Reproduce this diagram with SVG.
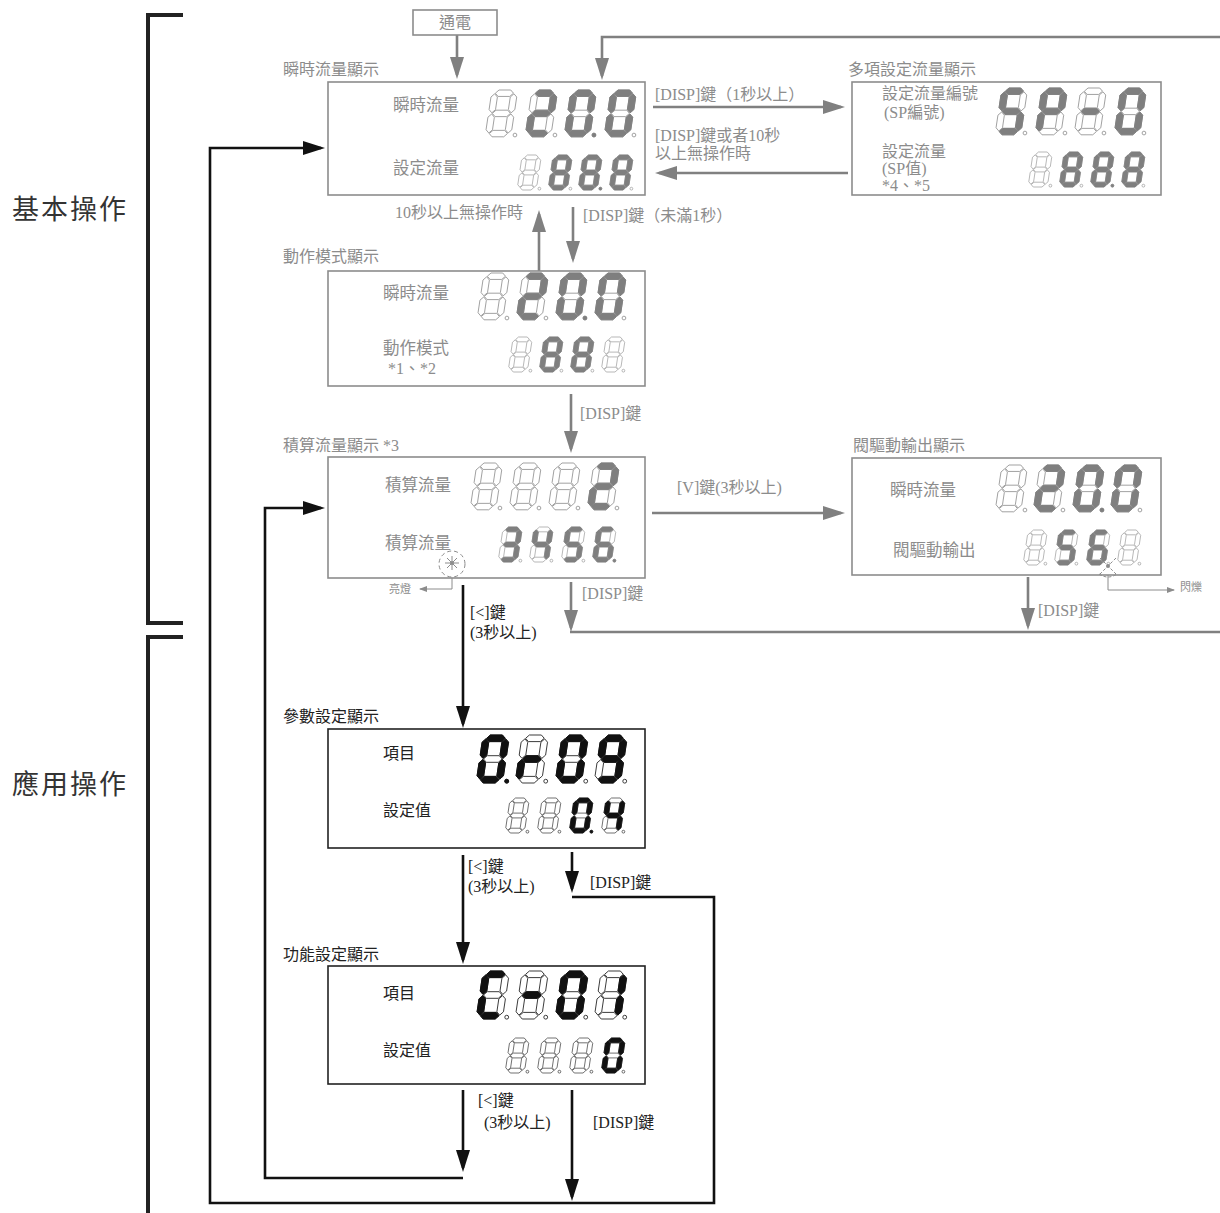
<svg xmlns="http://www.w3.org/2000/svg" width="1220" height="1213" viewBox="0 0 1220 1213">
<style>
text{font-family:"Liberation Serif","Noto Sans CJK TC",serif;}
.lbl{font-size:16px;fill:#8c8c8c;}
.lblk{font-size:16px;fill:#222;}
.sm{font-size:11px;fill:#8c8c8c;}
.sec{font-size:27px;fill:#333;letter-spacing:2px;}
.boxg{fill:#fff;stroke:#8c8c8c;stroke-width:1.6;}
.boxk{fill:#fff;stroke:#222;stroke-width:1.6;}
.cg{fill:none;stroke:#808080;stroke-width:2.6;}
.ck{fill:none;stroke:#111;stroke-width:2.6;}
.thin{fill:none;stroke:#8c8c8c;stroke-width:1;}
.brk{fill:none;stroke:#222;stroke-width:4;}
.g .off{fill:#fff;stroke:#9a9a9a;stroke-width:0.8;}
.g .on{fill:#7f7f7f;stroke:#7f7f7f;stroke-width:0.8;}
.k .off{fill:#fff;stroke:#333;stroke-width:0.8;}
.k .on{fill:#111;stroke:#111;stroke-width:0.8;}
</style>
<defs>
<marker id="ag" markerUnits="userSpaceOnUse" markerWidth="24" markerHeight="16" refX="18" refY="7" orient="auto"><path d="M0,0 L22,7 L0,14 Z" fill="#808080"/></marker>
<marker id="ak" markerUnits="userSpaceOnUse" markerWidth="24" markerHeight="16" refX="18" refY="7" orient="auto"><path d="M0,0 L22,7 L0,14 Z" fill="#111"/></marker>
<marker id="as" markerUnits="userSpaceOnUse" markerWidth="10" markerHeight="8" refX="7" refY="3" orient="auto"><path d="M0,0 L8,3 L0,6 Z" fill="#8c8c8c"/></marker>
<polygon id="sa" points="8.84,2.75 12,0 22,0 24.34,2.75 21.18,5.5 11.18,5.5"/>
<polygon id="sg" points="6.25,20 9.41,17.25 19.41,17.25 21.75,20 18.59,22.75 8.59,22.75"/>
<polygon id="sd" points="3.66,37.25 6.83,34.5 16.83,34.5 19.16,37.25 16,40 6,40"/>
<polygon id="sf" points="8.26,3.25 10.6,6 8.99,16.75 5.83,19.5 3.49,16.75 5.1,6"/>
<polygon id="sb" points="24.76,3.25 27.1,6 25.49,16.75 22.33,19.5 19.99,16.75 21.6,6"/>
<polygon id="se" points="5.68,20.5 8.01,23.25 6.4,34 3.24,36.75 0.9,34 2.51,23.25"/>
<polygon id="sc" points="22.18,20.5 24.51,23.25 22.9,34 19.74,36.75 17.4,34 19.01,23.25"/>
<circle id="dp" cx="25.6" cy="38.5" r="1.6"/>
<g id="off"><use href="#sa"/><use href="#sb"/><use href="#sc"/><use href="#sd"/><use href="#se"/><use href="#sf"/><use href="#sg"/><use href="#dp"/></g>
<g id="n0"><use href="#sa"/><use href="#sb"/><use href="#sc"/><use href="#sd"/><use href="#se"/><use href="#sf"/></g>
<g id="n1"><use href="#sb"/><use href="#sc"/></g>
<g id="n2"><use href="#sa"/><use href="#sb"/><use href="#sg"/><use href="#se"/><use href="#sd"/></g>
<g id="n3"><use href="#sa"/><use href="#sb"/><use href="#sg"/><use href="#sc"/><use href="#sd"/></g>
<g id="n4"><use href="#sf"/><use href="#sg"/><use href="#sb"/><use href="#sc"/></g>
<g id="n5"><use href="#sa"/><use href="#sf"/><use href="#sg"/><use href="#sc"/><use href="#sd"/></g>
<g id="n6"><use href="#sa"/><use href="#sf"/><use href="#sg"/><use href="#se"/><use href="#sc"/><use href="#sd"/></g>
<g id="n8"><use href="#sa"/><use href="#sb"/><use href="#sc"/><use href="#sd"/><use href="#se"/><use href="#sf"/><use href="#sg"/></g>
<g id="n9"><use href="#sa"/><use href="#sb"/><use href="#sc"/><use href="#sd"/><use href="#sf"/><use href="#sg"/></g>
<g id="nP"><use href="#sa"/><use href="#sb"/><use href="#sf"/><use href="#sg"/><use href="#se"/></g>
<g id="nm"><use href="#sg"/></g>
<g id="nr"><use href="#se"/><use href="#sg"/></g>
<g id="nC"><use href="#sa"/><use href="#sf"/><use href="#se"/><use href="#sd"/></g>
</defs>
<rect width="1220" height="1213" fill="#fff"/>

<g id="brackets">
<path class="brk" d="M183,15 H148 V623 H183"/>
<path class="brk" d="M183,637 H148 V1213"/>
<text class="sec" x="12" y="219">基本操作</text>
<text class="sec" x="12" y="794">應用操作</text>
</g>

<g id="connectors">
<path class="cg" d="M457,35 V75" marker-end="url(#ag)"/>
<path class="cg" d="M1220,37 H602 V76" marker-end="url(#ag)"/>
<path class="cg" d="M653,107 H841" marker-end="url(#ag)"/>
<path class="cg" d="M848,173 H659" marker-end="url(#ag)"/>
<path class="cg" d="M573,207 V259" marker-end="url(#ag)"/>
<path class="cg" d="M539,271 V214" marker-end="url(#ag)"/>
<path class="cg" d="M571,394 V449" marker-end="url(#ag)"/>
<path class="cg" d="M652,513 H841" marker-end="url(#ag)"/>
<path class="cg" d="M571,582 V628" marker-end="url(#ag)"/>
<path class="cg" d="M570,632 H1220"/>
<path class="cg" d="M1028,577 V626" marker-end="url(#ag)"/>
<path class="ck" d="M463,585 V724" marker-end="url(#ak)"/>
<path class="ck" d="M463,855 V960" marker-end="url(#ak)"/>
<path class="ck" d="M572,852 V889" marker-end="url(#ak)"/>
<path class="ck" d="M572,897 H714 V1203 H210 V148 H321" marker-end="url(#ak)"/>
<path class="ck" d="M463,1090 V1168" marker-end="url(#ak)"/>
<path class="ck" d="M463,1178 H265 V508 H321" marker-end="url(#ak)"/>
<path class="ck" d="M572,1090 V1197" marker-end="url(#ak)"/>
<path class="thin" d="M452,578 V589 H420" marker-end="url(#as)"/>
<path class="thin" d="M1108,572 V590 H1174" marker-end="url(#as)"/>
<text class="lbl" x="655" y="100">[DISP]鍵（1秒以上）</text>
<text class="lbl" x="655" y="141">[DISP]鍵或者10秒</text>
<text class="lbl" x="655" y="159">以上無操作時</text>
<text class="lbl" x="395" y="218">10秒以上無操作時</text>
<text class="lbl" x="583" y="221">[DISP]鍵（未滿1秒）</text>
<text class="lbl" x="580" y="419">[DISP]鍵</text>
<text class="lbl" x="677" y="493">[V]鍵(3秒以上)</text>
<text class="lbl" x="582" y="599">[DISP]鍵</text>
<text class="lbl" x="1038" y="616">[DISP]鍵</text>
<text class="sm" x="389" y="593">亮燈</text>
<text class="sm" x="1180" y="591">閃爍</text>
<text class="lblk" x="470" y="618">[&lt;]鍵</text>
<text class="lblk" x="470" y="638">(3秒以上)</text>
<text class="lblk" x="468" y="872">[&lt;]鍵</text>
<text class="lblk" x="468" y="892">(3秒以上)</text>
<text class="lblk" x="590" y="888">[DISP]鍵</text>
<text class="lblk" x="478" y="1106">[&lt;]鍵</text>
<text class="lblk" x="484" y="1128">(3秒以上)</text>
<text class="lblk" x="593" y="1128">[DISP]鍵</text>
</g>

<g id="power">
<rect class="boxg" x="413" y="10" width="84" height="25"/>
<text class="lbl" x="455" y="28" text-anchor="middle">通電</text>
</g>

<g id="box1">
<text class="lbl" x="283" y="75">瞬時流量顯示</text>
<rect class="boxg" x="328" y="82" width="317" height="113"/>
<text class="lbl" x="393" y="111" style="font-size:16.5px">瞬時流量</text>
<text class="lbl" x="393" y="174" style="font-size:16.5px">設定流量</text>
<g class="g">
<g transform="translate(485 90) scale(1.17)"><use href="#off" class="off"/></g>
<g transform="translate(525 90) scale(1.17)"><use href="#off" class="off"/><use href="#n2" class="on"/></g>
<g transform="translate(564 90) scale(1.17)"><use href="#off" class="off"/><use href="#n0" class="on"/><use href="#dp" class="on"/></g>
<g transform="translate(604 90) scale(1.17)"><use href="#off" class="off"/><use href="#n0" class="on"/></g>
<g transform="translate(517 155) scale(0.875)"><use href="#off" class="off"/></g>
<g transform="translate(548 155) scale(0.875)"><use href="#off" class="off"/><use href="#n8" class="on"/></g>
<g transform="translate(578 155) scale(0.875)"><use href="#off" class="off"/><use href="#n8" class="on"/><use href="#dp" class="on"/></g>
<g transform="translate(609 155) scale(0.875)"><use href="#off" class="off"/><use href="#n8" class="on"/></g>
</g>
</g>

<g id="box2">
<text class="lbl" x="848" y="75">多項設定流量顯示</text>
<rect class="boxg" x="852" y="82" width="309" height="113"/>
<text class="lbl" x="882" y="99">設定流量編號</text>
<text class="lbl" x="884" y="118">(SP編號)</text>
<text class="lbl" x="882" y="157">設定流量</text>
<text class="lbl" x="882" y="174">(SP值)</text>
<text class="lbl" x="882" y="191">*4、*5</text>
<g class="g">
<g transform="translate(995 88) scale(1.17)"><use href="#off" class="off"/><use href="#n5" class="on"/></g>
<g transform="translate(1035 88) scale(1.17)"><use href="#off" class="off"/><use href="#nP" class="on"/></g>
<g transform="translate(1074 88) scale(1.17)"><use href="#off" class="off"/><use href="#nm" class="on"/></g>
<g transform="translate(1114 88) scale(1.17)"><use href="#off" class="off"/><use href="#n0" class="on"/></g>
<g transform="translate(1028 152) scale(0.875)"><use href="#off" class="off"/></g>
<g transform="translate(1059 152) scale(0.875)"><use href="#off" class="off"/><use href="#n8" class="on"/></g>
<g transform="translate(1090 152) scale(0.875)"><use href="#off" class="off"/><use href="#n8" class="on"/><use href="#dp" class="on"/></g>
<g transform="translate(1121 152) scale(0.875)"><use href="#off" class="off"/><use href="#n8" class="on"/></g>
</g>
</g>

<g id="box3">
<text class="lbl" x="283" y="262">動作模式顯示</text>
<rect class="boxg" x="328" y="271" width="317" height="115"/>
<text class="lbl" x="383" y="299" style="font-size:16.5px">瞬時流量</text>
<text class="lbl" x="383" y="354" style="font-size:16.5px">動作模式</text>
<text class="lbl" x="388" y="374">*1、*2</text>
<g class="g">
<g transform="translate(477 273) scale(1.17)"><use href="#off" class="off"/></g>
<g transform="translate(516 273) scale(1.17)"><use href="#off" class="off"/><use href="#n2" class="on"/></g>
<g transform="translate(555 273) scale(1.17)"><use href="#off" class="off"/><use href="#n0" class="on"/><use href="#dp" class="on"/></g>
<g transform="translate(594 273) scale(1.17)"><use href="#off" class="off"/><use href="#n0" class="on"/></g>
<g transform="translate(508 337) scale(0.875)"><use href="#off" class="off"/></g>
<g transform="translate(539 337) scale(0.875)"><use href="#off" class="off"/><use href="#n8" class="on"/></g>
<g transform="translate(570 337) scale(0.875)"><use href="#off" class="off"/><use href="#n8" class="on"/></g>
<g transform="translate(601 337) scale(0.875)"><use href="#off" class="off"/></g>
</g>
</g>

<g id="box4">
<text class="lbl" x="283" y="451">積算流量顯示 *3</text>
<rect class="boxg" x="328" y="457" width="317" height="121"/>
<text class="lbl" x="385" y="491" style="font-size:16.5px">積算流量</text>
<text class="lbl" x="385" y="549" style="font-size:16.5px">積算流量</text>
<g class="g">
<g transform="translate(470 463) scale(1.17)"><use href="#off" class="off"/></g>
<g transform="translate(509 463) scale(1.17)"><use href="#off" class="off"/></g>
<g transform="translate(548 463) scale(1.17)"><use href="#off" class="off"/></g>
<g transform="translate(587 463) scale(1.17)"><use href="#off" class="off"/><use href="#n2" class="on"/></g>
<g transform="translate(498 527) scale(0.875)"><use href="#off" class="off"/><use href="#n3" class="on"/></g>
<g transform="translate(529 527) scale(0.875)"><use href="#off" class="off"/><use href="#n4" class="on"/></g>
<g transform="translate(561 527) scale(0.875)"><use href="#off" class="off"/><use href="#n5" class="on"/></g>
<g transform="translate(592 527) scale(0.875)"><use href="#off" class="off"/><use href="#n6" class="on"/><use href="#dp" class="on"/></g>
</g>
<circle cx="452" cy="564" r="13" fill="none" stroke="#8c8c8c" stroke-width="1" stroke-dasharray="4 3"/>
<circle cx="452" cy="563" r="2" fill="#8c8c8c"/>
<path class="thin" d="M452,556 V570 M445,563 H459 M447,558 L457,568 M457,558 L447,568"/>
</g>

<g id="box5">
<text class="lbl" x="853" y="451">閥驅動輸出顯示</text>
<rect class="boxg" x="852" y="458" width="309" height="117"/>
<text class="lbl" x="890" y="496" style="font-size:16.5px">瞬時流量</text>
<text class="lbl" x="893" y="556" style="font-size:16.5px">閥驅動輸出</text>
<g class="g">
<g transform="translate(995 465) scale(1.17)"><use href="#off" class="off"/></g>
<g transform="translate(1033 465) scale(1.17)"><use href="#off" class="off"/><use href="#n2" class="on"/></g>
<g transform="translate(1072 465) scale(1.17)"><use href="#off" class="off"/><use href="#n0" class="on"/><use href="#dp" class="on"/></g>
<g transform="translate(1110 465) scale(1.17)"><use href="#off" class="off"/><use href="#n0" class="on"/></g>
<g transform="translate(1023 530) scale(0.875)"><use href="#off" class="off"/></g>
<g transform="translate(1054 530) scale(0.875)"><use href="#off" class="off"/><use href="#n5" class="on"/></g>
<g transform="translate(1086 530) scale(0.875)"><use href="#off" class="off"/><use href="#n6" class="on"/></g>
<g transform="translate(1117 530) scale(0.875)"><use href="#off" class="off"/></g>
</g>
<circle cx="1108" cy="566" r="2" fill="#8c8c8c"/>
<path d="M1100,558 L1116,574 M1116,558 L1100,574 M1099,574 Q1108,580 1117,574" fill="none" stroke="#8c8c8c" stroke-width="1" stroke-dasharray="3 2"/>
</g>

<g id="box6">
<text class="lblk" x="283" y="722">參數設定顯示</text>
<rect class="boxk" x="328" y="729" width="317" height="119"/>
<text class="lblk" x="383" y="759">項目</text>
<text class="lblk" x="383" y="816">設定值</text>
<g class="k">
<g transform="translate(476 735) scale(1.2)"><use href="#off" class="off"/><use href="#n0" class="on"/><use href="#dp" class="on"/></g>
<g transform="translate(515 735) scale(1.2)"><use href="#off" class="off"/><use href="#nr" class="on"/></g>
<g transform="translate(555 735) scale(1.2)"><use href="#off" class="off"/><use href="#n0" class="on"/></g>
<g transform="translate(594 735) scale(1.2)"><use href="#off" class="off"/><use href="#n9" class="on"/></g>
<g transform="translate(505 798) scale(0.875)"><use href="#off" class="off"/></g>
<g transform="translate(537 798) scale(0.875)"><use href="#off" class="off"/></g>
<g transform="translate(569 798) scale(0.875)"><use href="#off" class="off"/><use href="#n0" class="on"/><use href="#dp" class="on"/></g>
<g transform="translate(601 798) scale(0.875)"><use href="#off" class="off"/><use href="#n4" class="on"/></g>
</g>
</g>

<g id="box7">
<text class="lblk" x="283" y="960">功能設定顯示</text>
<rect class="boxk" x="328" y="966" width="317" height="118"/>
<text class="lblk" x="383" y="999">項目</text>
<text class="lblk" x="383" y="1056">設定值</text>
<g class="k">
<g transform="translate(476 971) scale(1.2)"><use href="#off" class="off"/><use href="#nC" class="on"/></g>
<g transform="translate(515 971) scale(1.2)"><use href="#off" class="off"/><use href="#nm" class="on"/></g>
<g transform="translate(555 971) scale(1.2)"><use href="#off" class="off"/><use href="#n0" class="on"/></g>
<g transform="translate(594 971) scale(1.2)"><use href="#off" class="off"/><use href="#n1" class="on"/></g>
<g transform="translate(505 1038) scale(0.875)"><use href="#off" class="off"/></g>
<g transform="translate(537 1038) scale(0.875)"><use href="#off" class="off"/></g>
<g transform="translate(569 1038) scale(0.875)"><use href="#off" class="off"/></g>
<g transform="translate(601 1038) scale(0.875)"><use href="#off" class="off"/><use href="#n0" class="on"/></g>
</g>
</g>
</svg>
